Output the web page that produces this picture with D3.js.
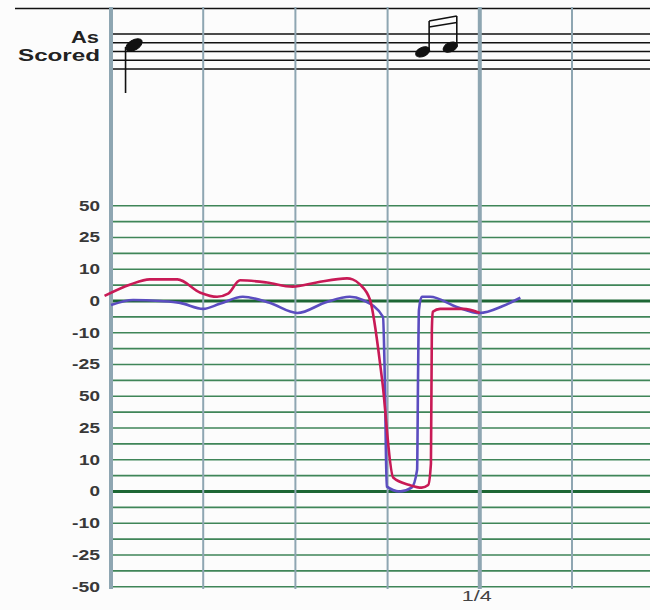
<!doctype html>
<html>
<head>
  <meta charset="utf-8">
  <title>As Scored</title>
  <script src="https://cdn.jsdelivr.net/npm/d3@7/dist/d3.min.js"></script>
  <style>
  body { margin: 0; background: #fcfcfc; }
  .lbl { font-family: "Liberation Sans", Arial, sans-serif; font-size: 14px; font-weight: bold; fill: #383838; }
  .curve { fill: none; stroke-width: 2.6px; stroke-linejoin: round; }
  </style>
</head>
<body>
  <script>
  // tick labels of the two stacked scales, top to bottom
  var tickLabels = ["50", "25", "10", "0", "-10", "-25", "50", "25", "10", "0", "-10", "-25", "-50"];
  // breakpoints of the (non-linear) upper scale
  var scaleValues = [50, 25, 10, 0, -10, -25, -50];

  // time in sixteenths from the first bar line, value in the upper scale
  var redT = [-0.07, 0.21, 0.42, 0.72, 0.97, 1.15, 1.27, 1.40, 1.69, 1.97, 2.23, 2.56, 2.62, 2.70, 2.81, 2.94, 3.06, 3.24, 3.37, 3.44, 3.47, 3.48, 3.49, 3.57, 3.82, 4.0];
  var redV = [1.6, 5.2, 6.8, 6.8, 2.6, 1.3, 2.3, 6.5, 5.8, 4.5, 5.8, 7.1, 6.8, 5.2, 0.3, -36.7, -114, -120, -122, -120, -103, -9, -3.4, -2.5, -2.5, -3.8];

  var blueT = [0, 0.24, 0.53, 0.75, 1.0, 1.18, 1.43, 1.72, 2.02, 2.34, 2.59, 2.73, 2.95, 2.97, 2.99, 3.13, 3.26, 3.32, 3.33, 3.34, 3.37, 3.46, 3.75, 4.0, 4.25, 4.44];
  var blueV = [-1.3, 0.3, 0, -0.6, -2.5, -0.9, 1.3, -0.6, -3.8, -0.3, 1.3, 0.3, -5.0, -36.7, -121, -125, -122, -108, -36.7, -2.8, 1.3, 1.3, -1.9, -3.8, -1.6, 1.0];

  var barBeats = [0, 1, 2, 3, 4, 5];   // beats 0 and 4 are heavy
  var beatLabel = "1/4";

  var width = 650, height = 610;
  var svg = d3.select("body").append("svg")
      .attr("width", width).attr("height", height);

  var x = d3.scaleLinear().domain([0, 1]).range([111, 203.2]);
  var row = d3.scaleLinear().domain([0, 24]).range([205.7, 586.7]);
  var y = d3.scaleLinear()
      .domain(scaleValues)
      .range(scaleValues.map(function(d, i) { return row(i * 2); }));

  // top rule
  svg.append("line")
    .attr("x1", 15).attr("x2", width).attr("y1", 8.5).attr("y2", 8.5)
    .attr("stroke", "#111").attr("stroke-width", 1.5);

  // staff
  var staffTop = 34, gap = 8.75;
  svg.append("g").selectAll("line")
    .data(d3.range(5))
    .join("line")
      .attr("x1", x(0)).attr("x2", width)
      .attr("y1", function(d) { return staffTop + d * gap; })
      .attr("y2", function(d) { return staffTop + d * gap; })
      .attr("stroke", "#111").attr("stroke-width", 1.4);

  svg.append("text").attr("class", "lbl")
    .attr("x", 71).attr("y", 43)
    .attr("textLength", 28).attr("lengthAdjust", "spacingAndGlyphs")
    .style("font-size", "17px").style("fill", "#222").text("As");
  svg.append("text").attr("class", "lbl")
    .attr("x", 18).attr("y", 61)
    .attr("textLength", 82).attr("lengthAdjust", "spacingAndGlyphs")
    .style("font-size", "17px").style("fill", "#222").text("Scored");

  // grid rows
  svg.append("g").selectAll("line")
    .data(d3.range(25))
    .join("line")
      .attr("x1", x(0)).attr("x2", width)
      .attr("y1", function(d) { return row(d); })
      .attr("y2", function(d) { return row(d); })
      .attr("stroke", function(d) { return d % 2 == 0 && tickLabels[d / 2] == "0" ? "#1d6634" : "#3f8558"; })
      .attr("stroke-width", function(d) { return d % 2 == 0 && tickLabels[d / 2] == "0" ? 3 : 1.6; });

  // labels are drawn wide, like the stretched original
  svg.append("g").selectAll("text")
    .data(tickLabels)
    .join("text")
      .attr("class", "lbl")
      .attr("x", 100)
      .attr("y", function(d, i) { return row(i * 2); })
      .attr("dy", "0.36em")
      .attr("text-anchor", "end")
      .attr("textLength", function(d) { return d.replace("-", "").length * 10.5 + (d[0] == "-" ? 7 : 0); })
      .attr("lengthAdjust", "spacingAndGlyphs")
      .text(function(d) { return d; });

  // bar / beat lines
  svg.append("g").selectAll("line")
    .data(barBeats)
    .join("line")
      .attr("x1", function(d) { return x(d); })
      .attr("x2", function(d) { return x(d); })
      .attr("y1", 7).attr("y2", 589)
      .attr("stroke", "#8ea6b2")
      .attr("stroke-width", function(d) { return d % 4 == 0 ? 4 : 2; });

  svg.append("text").attr("class", "lbl")
    .attr("x", x(4) - 18).attr("y", 601)
    .attr("textLength", 30).attr("lengthAdjust", "spacingAndGlyphs")
    .style("font-weight", "normal").style("fill", "#444")
    .text(beatLabel);

  // notes
  var notes = svg.append("g").attr("fill", "#111").attr("stroke", "#111");
  var qx = x(0.25), qy = staffTop + 1.25 * gap;
  notes.append("ellipse")
    .attr("cx", qx).attr("cy", qy)
    .attr("rx", 9).attr("ry", 5)
    .attr("transform", "rotate(-30," + qx + "," + qy + ")");
  notes.append("line")
    .attr("x1", qx - 8.5).attr("x2", qx - 8.5)
    .attr("y1", qy + 2).attr("y2", 93).attr("stroke-width", 1.6);

  var beamed = [{t: 3.38, s: 2.05}, {t: 3.68, s: 1.5}];
  beamed.forEach(function(n) {
    var cx = x(n.t), cy = staffTop + n.s * gap;
    notes.append("ellipse")
      .attr("cx", cx).attr("cy", cy).attr("rx", 7.5).attr("ry", 4.5)
      .attr("transform", "rotate(-25," + cx + "," + cy + ")");
  });
  var sx = beamed.map(function(n) { return x(n.t) + 6.5; });
  notes.append("line").attr("x1", sx[0]).attr("x2", sx[0])
    .attr("y1", staffTop + 2.05 * gap).attr("y2", 21).attr("stroke-width", 1.6);
  notes.append("line").attr("x1", sx[1]).attr("x2", sx[1])
    .attr("y1", staffTop + 1.5 * gap).attr("y2", 16).attr("stroke-width", 1.6);
  notes.append("line").attr("x1", sx[0]).attr("x2", sx[1])
    .attr("y1", 21).attr("y2", 16).attr("stroke-width", 1.6);
  notes.append("line").attr("x1", sx[0]).attr("x2", sx[1])
    .attr("y1", 27).attr("y2", 22.5).attr("stroke-width", 1.4);

  // curves
  var line = d3.line()
      .x(function(d) { return x(d[0]); })
      .y(function(d) { return y(d[1]); })
      .curve(d3.curveMonotoneX);

  svg.append("path")
    .datum(d3.zip(blueT, blueV))
    .attr("class", "curve")
    .attr("stroke", "#5b4dc0")
    .attr("d", line);

  svg.append("path")
    .datum(d3.zip(redT, redV))
    .attr("class", "curve")
    .attr("stroke", "#c81a56")
    .attr("d", line);
  </script>
</body>
</html>
